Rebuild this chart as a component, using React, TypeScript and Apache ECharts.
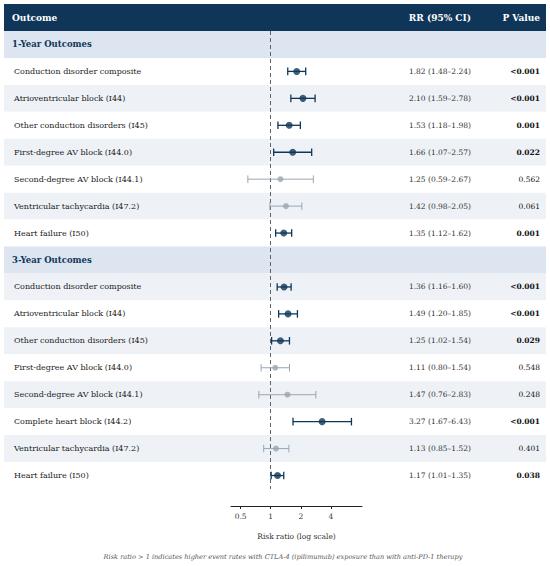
import React, { useEffect, useRef } from "react";
import * as echarts from "echarts";

const sectionTitles = ["1-Year Outcomes", "3-Year Outcomes"];

const outcomes1 = [
  "Conduction disorder composite",
  "Atrioventricular block (I44)",
  "Other conduction disorders (I45)",
  "First-degree AV block (I44.0)",
  "Second-degree AV block (I44.1)",
  "Ventricular tachycardia (I47.2)",
  "Heart failure (I50)",
];
const rr1 = [1.82, 2.1, 1.53, 1.66, 1.25, 1.42, 1.35];
const lo1 = [1.48, 1.59, 1.18, 1.07, 0.59, 0.98, 1.12];
const hi1 = [2.24, 2.78, 1.98, 2.57, 2.67, 2.05, 1.62];
const p1 = ["<0.001", "<0.001", "0.001", "0.022", "0.562", "0.061", "0.001"];

const outcomes3 = [
  "Conduction disorder composite",
  "Atrioventricular block (I44)",
  "Other conduction disorders (I45)",
  "First-degree AV block (I44.0)",
  "Second-degree AV block (I44.1)",
  "Complete heart block (I44.2)",
  "Ventricular tachycardia (I47.2)",
  "Heart failure (I50)",
];
const rr3 = [1.36, 1.49, 1.25, 1.11, 1.47, 3.27, 1.13, 1.17];
const lo3 = [1.16, 1.2, 1.02, 0.8, 0.76, 1.67, 0.85, 1.01];
const hi3 = [1.6, 1.85, 1.54, 1.54, 2.83, 6.43, 1.52, 1.35];
const p3 = ["<0.001", "<0.001", "0.029", "0.548", "0.248", "<0.001", "0.401", "0.038"];

const xTicks = [0.5, 1, 2, 4];

const NAVY = "#0f3659";
const GREY = "#9aa6b2";
const SECTION_BG = "#dde5f0";
const STRIPE_BG = "#eef2f7";
const FONT = "'DejaVu Serif', serif";

type Row = {
  kind: "section" | "row";
  label: string;
  rr?: number;
  lo?: number;
  hi?: number;
  p?: string;
  sig?: boolean;
  stripe?: boolean;
};

const isSig = (p: string) => p.startsWith("<") || parseFloat(p) < 0.05;
const fmt = (v: number) => v.toFixed(2);

function buildRows(): Row[] {
  const rows: Row[] = [];
  let k = 0;
  const groups = [
    [outcomes1, rr1, lo1, hi1, p1],
    [outcomes3, rr3, lo3, hi3, p3],
  ] as const;
  groups.forEach((g, gi) => {
    rows.push({ kind: "section", label: sectionTitles[gi] });
    const [names, rr, lo, hi, p] = g as any;
    names.forEach((n: string, i: number) => {
      rows.push({
        kind: "row",
        label: n,
        rr: rr[i],
        lo: lo[i],
        hi: hi[i],
        p: p[i],
        sig: isSig(p[i]),
        stripe: k % 2 === 1,
      });
      k++;
    });
  });
  return rows;
}

export default function App() {
  const ref = useRef<HTMLDivElement>(null);
  useEffect(() => {
    document.body.style.margin = "0";
    if (!ref.current) return;
    const chart = echarts.init(ref.current, undefined, { renderer: "svg" });
    const rows = buildRows();
    const cats = rows.map((_, i) => String(i));

    const bgData = rows.map((r, i) => [1, i]);
    const barData = rows
      .map((r, i) => (r.kind === "row" ? [r.lo, r.hi, i, r.sig ? 1 : 0] : null))
      .filter(Boolean);
    const pointData = rows
      .map((r, i) =>
        r.kind === "row"
          ? {
              value: [r.rr, i],
              symbolSize: r.sig ? 7 : 6,
              itemStyle: { color: r.sig ? NAVY : GREY },
            }
          : null
      )
      .filter(Boolean);

    const option: any = {
      animation: false,
      backgroundColor: "#ffffff",
      grid: { left: 231, right: 188, top: 31, bottom: 77, containLabel: false },
      xAxis: {
        type: "log",
        logBase: 2,
        min: 0.4,
        max: 8.2,
        offset: 17,
        axisLine: { show: true, lineStyle: { color: "#222", width: 1 } },
        axisTick: {
          show: true,
          length: 3,
          customValues: xTicks,
          lineStyle: { color: "#222" },
        },
        axisLabel: {
          customValues: xTicks,
          formatter: (v: number) => String(v),
          fontFamily: FONT,
          fontSize: 7.5,
          color: "#333",
          margin: 6,
        },
        splitLine: { show: false },
        name: "Risk ratio (log scale)",
        nameLocation: "middle",
        nameGap: 26,
        nameTextStyle: { fontFamily: FONT, fontSize: 7.5, color: "#333" },
      },
      yAxis: {
        type: "category",
        data: cats,
        inverse: true,
        show: false,
      },
      graphic: [
        {
          type: "rect",
          shape: { x: 4, y: 4, width: 542, height: 27 },
          style: { fill: NAVY },
          z: 10,
        },
        {
          type: "text",
          x: 12,
          y: 17.5,
          style: {
            text: "Outcome",
            fill: "#fff",
            font: `bold 9px ${FONT}`,
            verticalAlign: "middle",
            align: "left",
          },
          z: 11,
        },
        {
          type: "text",
          x: 471,
          y: 17.5,
          style: {
            text: "RR (95% CI)",
            fill: "#fff",
            font: `bold 9px ${FONT}`,
            verticalAlign: "middle",
            align: "right",
          },
          z: 11,
        },
        {
          type: "text",
          x: 540,
          y: 17.5,
          style: {
            text: "P Value",
            fill: "#fff",
            font: `bold 9px ${FONT}`,
            verticalAlign: "middle",
            align: "right",
          },
          z: 11,
        },
        {
          type: "text",
          x: 283,
          y: 557,
          style: {
            text: "Risk ratio > 1 indicates higher event rates with CTLA-4 (ipilimumab) exposure than with anti-PD-1 therapy",
            fill: "#555",
            font: `italic 6.6px ${FONT}`,
            verticalAlign: "middle",
            align: "center",
          },
        },
      ],
      series: [
        {
          type: "custom",
          z: 0,
          clip: false,
          silent: true,
          encode: { x: 0, y: 1 },
          data: bgData,
          renderItem: (params: any, api: any) => {
            const i = api.value(1);
            const r = rows[i];
            const c = api.coord([1, i]);
            const h = api.size([0, 1])[1];
            const top = c[1] - h / 2;
            const fill =
              r.kind === "section" ? SECTION_BG : r.stripe ? STRIPE_BG : "#ffffff";
            const children: any[] = [
              {
                type: "rect",
                shape: { x: 4, y: top, width: 542, height: h },
                style: { fill },
              },
            ];
            if (r.kind === "section") {
              children.push({
                type: "text",
                x: 12,
                y: c[1],
                style: {
                  text: r.label,
                  fill: NAVY,
                  font: `bold 8.5px ${FONT}`,
                  verticalAlign: "middle",
                  align: "left",
                },
              });
            } else {
              children.push(
                {
                  type: "text",
                  x: 14,
                  y: c[1],
                  style: {
                    text: r.label,
                    fill: "#1a1a1a",
                    font: `8px ${FONT}`,
                    verticalAlign: "middle",
                    align: "left",
                  },
                },
                {
                  type: "text",
                  x: 471,
                  y: c[1],
                  style: {
                    text: `${fmt(r.rr!)} (${fmt(r.lo!)}–${fmt(r.hi!)})`,
                    fill: "#333",
                    font: `7.5px ${FONT}`,
                    verticalAlign: "middle",
                    align: "right",
                  },
                },
                {
                  type: "text",
                  x: 540,
                  y: c[1],
                  style: {
                    text: r.p,
                    fill: "#111",
                    font: `${r.sig ? "bold " : ""}7.5px ${FONT}`,
                    verticalAlign: "middle",
                    align: "right",
                  },
                }
              );
            }
            return { type: "group", children };
          },
        },
        {
          type: "custom",
          z: 3,
          clip: false,
          silent: true,
          encode: { x: [0, 1], y: 2 },
          data: barData,
          renderItem: (params: any, api: any) => {
            const lo = api.value(0);
            const hi = api.value(1);
            const i = api.value(2);
            const sig = api.value(3) === 1;
            const a = api.coord([lo, i]);
            const b = api.coord([hi, i]);
            const color = sig ? NAVY : GREY;
            const w = sig ? 1.3 : 1;
            const ch = 3.8;
            const st = { stroke: color, lineWidth: w };
            return {
              type: "group",
              children: [
                { type: "line", shape: { x1: a[0], y1: a[1], x2: b[0], y2: b[1] }, style: st },
                { type: "line", shape: { x1: a[0], y1: a[1] - ch, x2: a[0], y2: a[1] + ch }, style: st },
                { type: "line", shape: { x1: b[0], y1: b[1] - ch, x2: b[0], y2: b[1] + ch }, style: st },
              ],
            };
          },
        },
        {
          type: "scatter",
          z: 4,
          symbol: "circle",
          data: pointData,
          silent: true,
          markLine: {
            silent: true,
            symbol: "none",
            label: { show: false },
            lineStyle: { color: "#5a6470", type: [4, 3], width: 1 },
            data: [{ xAxis: 1 }],
            z: 2,
          },
        },
      ],
    };
    chart.setOption(option);
    return () => chart.dispose();
  }, []);
  return <div ref={ref} style={{ width: 550, height: 566 }} />;
}
